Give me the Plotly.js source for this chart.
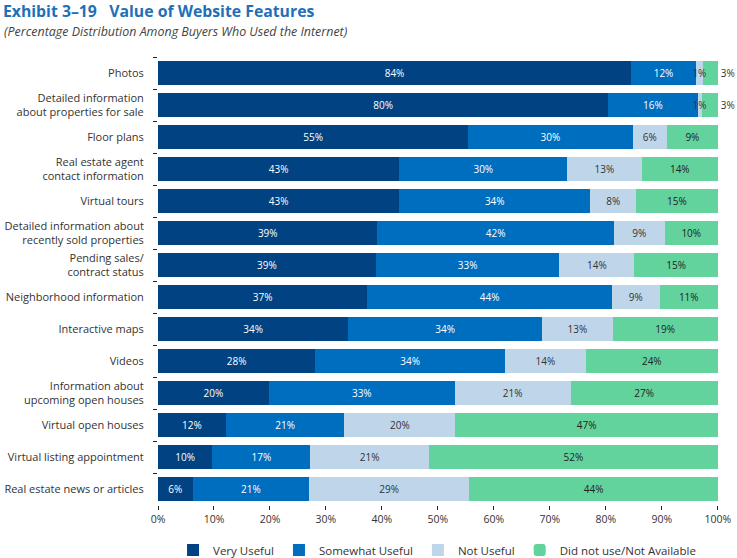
<!DOCTYPE html>
<html>
<head>
<meta charset="utf-8">
<script src="https://cdn.plot.ly/plotly-3.0.1.min.js"></script>
<style>html,body{margin:0;padding:0;background:#fff;}#chart{width:737px;height:558px;}</style>
</head>
<body>
<div id="chart"></div>
<script>
const categories = [
  "Photos",
  "Detailed information<br>about properties for sale",
  "Floor plans",
  "Real estate agent<br>contact information",
  "Virtual tours",
  "Detailed information about<br>recently sold properties",
  "Pending sales/<br>contract status",
  "Neighborhood information",
  "Interactive maps",
  "Videos",
  "Information about<br>upcoming open houses",
  "Virtual open houses",
  "Virtual listing appointment",
  "Real estate news or articles"
];
// bar lengths
const veryUseful      = [84.5, 80.4, 55.4, 43.1, 43.1, 39.2, 38.9, 37.4, 34.0, 28.1, 19.8, 12.1,  9.7,  6.2];
const somewhatUseful  = [11.6, 16.0, 29.4, 30.0, 34.1, 42.2, 32.8, 43.7, 34.6, 33.9, 33.2, 21.2, 17.5, 20.8];
const notUseful       = [ 1.2,  0.7,  6.1, 13.3,  8.2,  9.1, 13.4,  8.5, 12.6, 14.4, 20.7, 19.8, 21.2, 28.6];
const notAvailable    = [ 2.7,  2.9,  9.1, 13.6, 14.6,  9.5, 14.9, 10.4, 18.8, 23.6, 26.3, 46.9, 51.6, 44.4];
// printed labels
const veryUsefulLbl     = [84, 80, 55, 43, 43, 39, 39, 37, 34, 28, 20, 12, 10, 6];
const somewhatUsefulLbl = [12, 16, 30, 30, 34, 42, 33, 44, 34, 34, 33, 21, 17, 21];
const notUsefulLbl      = [ 1,  1,  6, 13,  8,  9, 14,  9, 13, 14, 21, 20, 21, 29];
const notAvailableLbl   = [ 3,  3,  9, 14, 15, 10, 15, 11, 19, 24, 27, 47, 52, 44];
const seriesNames = ["Very Useful", "Somewhat Useful", "Not Useful", "Did not use/Not Available"];
const xTicks = [0, 10, 20, 30, 40, 50, 60, 70, 80, 90, 100];

const colors = ["#004282", "#006ebf", "#bfd6ea", "#62d39d"];
const textColors = ["#ffffff", "#ffffff", "#333333", "#222222"];
const FONT = "Open Sans, Lato, sans-serif";

const vals = [veryUseful, somewhatUseful, notUseful, notAvailable];
const lbls = [veryUsefulLbl, somewhatUsefulLbl, notUsefulLbl, notAvailableLbl];

const traces = vals.map((v, i) => ({
  type: "bar",
  orientation: "h",
  name: seriesNames[i],
  y: categories,
  x: v,
  zorder: i === 2 ? 1 : 0,
  text: lbls[i].map(n => n + "%"),
  textposition: (i === 3) ? v.map(x => x < 4 ? "outside" : "inside") : "inside",
  insidetextanchor: "middle",
  constraintext: "none",
  textangle: 0,
  cliponaxis: false,
  textfont: {family: FONT, size: 10, color: textColors[i]},
  insidetextfont: {family: FONT, size: 10, color: textColors[i]},
  outsidetextfont: {family: FONT, size: 10, color: "#333333"},
  marker: {color: colors[i], line: {width: 0}, cornerradius: i === 3 ? 2 : 0},
  hoverinfo: "x+y+name"
}));

const layout = {
  width: 737, height: 558,
  barmode: "stack",
  bargap: 0.22,
  margin: {l: 158, r: 19, t: 57, b: 53},
  paper_bgcolor: "#ffffff",
  plot_bgcolor: "#ffffff",
  font: {family: FONT, size: 11, color: "#333333"},
  title: {
    text: "<b>Exhibit 3–19   Value of Website Features</b>",
    font: {family: FONT, size: 15.8, color: "#1f70b8"},
    x: 0.004, xanchor: "left", xref: "container",
    y: 0.979, yanchor: "middle", yref: "container"
  },
  annotations: [{
    text: "<i>(Percentage Distribution Among Buyers Who Used the Internet)</i>",
    xref: "paper", yref: "paper", x: -0.279, y: 1.056,
    xanchor: "left", yanchor: "middle", showarrow: false,
    font: {family: FONT, size: 12.45, color: "#444444"}
  }],
  xaxis: {
    range: [0, 100.03],
    tickvals: xTicks,
    ticktext: xTicks.map(t => t + "%"),
    showgrid: false, zeroline: false,
    showline: true, linecolor: "#222222", linewidth: 1,
    ticks: "outside", ticklen: 4, tickcolor: "#222222",
    tickfont: {family: FONT, size: 10.5, color: "#333333"},
    fixedrange: true
  },
  yaxis: {
    autorange: "reversed",
    showgrid: false, zeroline: false,
    showline: true, linecolor: "#222222", linewidth: 1,
    ticks: "outside", ticklen: 4, tickcolor: "#222222",
    tickson: "boundaries",
    ticklabelstandoff: 11,
    tickfont: {family: FONT, size: 11, color: "#333333"},
    fixedrange: true
  },
  showlegend: true,
  legend: {
    orientation: "h",
    xref: "container", yref: "container",
    x: 0.593, xanchor: "center",
    y: 0.0143, yanchor: "middle",
    traceorder: "normal",
    font: {family: FONT, size: 11.5, color: "#333333"},
    itemwidth: 30
  }
};

Plotly.newPlot("chart", traces, layout, {displayModeBar: false, staticPlot: true});
</script>
</body>
</html>
